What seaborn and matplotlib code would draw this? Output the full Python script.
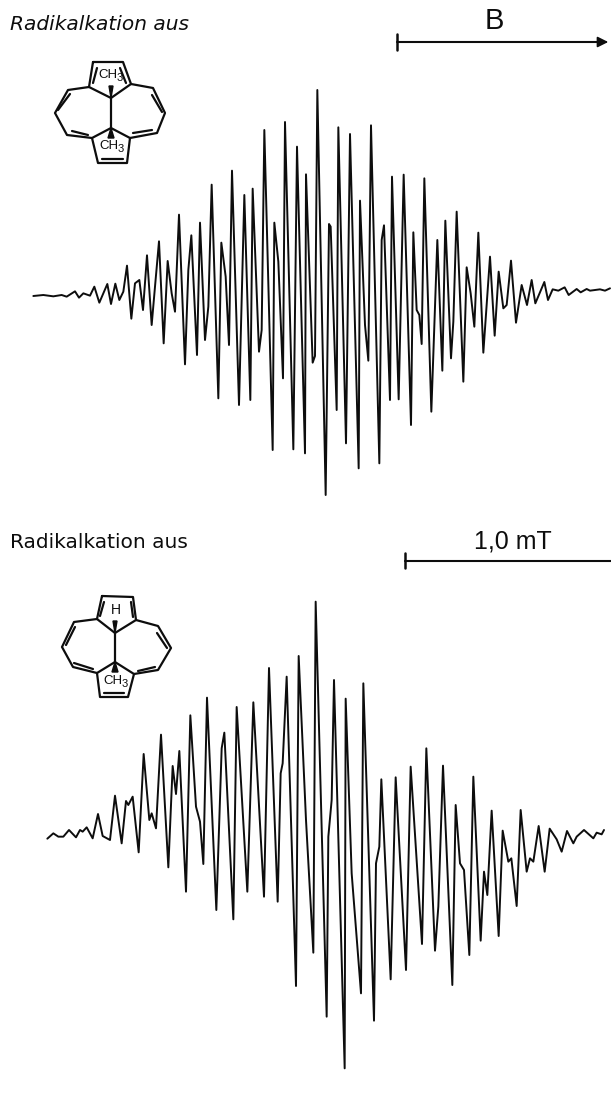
import seaborn as sns
import matplotlib.pyplot as plt
from pandas import DataFrame

# top trace: field position, amplitude (3 units = 1 px)
top_field = [40, 70, 100, 125, 140, 165, 177, 190, 210, 223, 238, 262, 273, 286, 298, 310, 321, 334, 345, 358,
             369, 381, 395, 405, 417, 431, 443, 455, 465, 477, 495, 505, 514, 531, 540, 555, 565, 575, 595, 604,
             617, 627, 636, 657, 673, 691, 698, 717, 725, 733, 758, 763, 775, 789, 795, 820, 831, 855, 858, 878,
             885, 892, 917, 927, 932, 950, 955, 978, 990, 1016, 1020, 1035, 1045, 1053, 1078, 1085, 1092, 1110,
             1116, 1136, 1151, 1173, 1180, 1190, 1198, 1205, 1213, 1234, 1252, 1267, 1276, 1293, 1300, 1310,
             1330, 1340, 1352, 1363, 1375, 1390, 1410, 1424, 1436, 1450, 1460, 1473, 1488, 1505, 1521, 1535,
             1546, 1573, 1584, 1598, 1615, 1634, 1646, 1670, 1682, 1700, 1710, 1740, 1755, 1770]
top_amp = [0, 3, -1, 3, -2, 14, -5, 8, 1, 28, -20, 36, -24, 37, -12, 13, 91, -68, 38, 48,
           -42, 122, -87, 28, 164, -142, 105, 8, -47, 244, -205, 78, 182, -177, 220, -132, -32, 334, -307, 160,
           58, -147, 376, -327, 303, -312, 322, -167, -102, 498, -462, 220, 103, -247, 522, -460, 448, -472, 365, -200,
           -180, 618, -597, 216, 208, -342, 506, -442, 486, -517, 286, -87, -194, 512, -502, 168, 212, -312,
           358, -310, 364, -387, 191, -42, -57, -144, 353, -347, 168, -224, 226, -187, -77, 253,
           -257, 86, 8, -92, 190, -170, 118, -119, 73, -37, -27, 106, -80, 33, -27, 48,
           -22, 42, -12, 20, 16, 26, 3, 21, 11, 21, 16, 20, 16, 23]

# bottom trace
bot_field = [52, 70, 85, 100, 117, 138, 150, 158, 170, 188, 204, 218, 240, 255, 275, 288, 295, 308, 326, 341,
             358, 365, 378, 393, 415, 428, 438, 448, 468, 481, 498, 510, 520, 531, 559, 575, 583, 610, 620, 652,
             670, 702, 717, 743, 752, 758, 770, 798, 806, 828, 850, 857, 890, 895, 905, 912, 944, 947, 965, 993,
             1000, 1032, 1038, 1048, 1054, 1082, 1097, 1128, 1142, 1176, 1189, 1215, 1225, 1239, 1267, 1277, 1290,
             1302, 1318, 1330, 1352, 1362, 1372, 1385, 1406, 1418, 1435, 1444, 1460, 1472, 1490, 1500, 1510, 1526,
             1544, 1559, 1580, 1595, 1611, 1630, 1640, 1662, 1690, 1700, 1715, 1722]
bot_amp = [-6, 10, 0, 0, 20, -2, 20, 15, 28, -5, 68, 2, -10, 123, -20, 107, 95, 120, -47, 248,
           50, 70, 25, 306, -92, 212, 128, 257, -165, 364, 90, 45, -82, 417, -220, 265, 312, -248, 389, -165,
           403, -180, 506, -195, 190, 220, 480, -448, 542, 50, -348, 705, -540, 0, 110, 470, -695, 414, -110, -470,
           460, -552, -80, -30, 172, -428, 178, -400, 210, -322, 265, -342, -210, 213, -445, 95, -80,
           -100, -355, 180, -312, -105, -175, 78, -298, 18, -75, -65, -208, 80, -105, -65, -75, 32,
           -105, 24, -8, -45, 17, -20, 0, 20, -5, 12, 7, 20]

labels = ["Radikalkation aus", "Radikalkation aus"]
field_label = "B"
scale_label = "1,0 mT"

# molecule outlines, figure pixels
mol_top = [
    [(93, 62), (123, 62), (131, 84), (111, 98), (89, 87), (93, 62)],
    [(89, 87), (68, 90), (55, 113), (67, 135), (92, 138), (111, 128)],
    [(111, 98), (111, 128)],
    [(92, 138), (98, 163), (127, 163), (130, 138), (111, 128)],
    [(131, 84), (153, 88), (165, 113), (157, 133), (130, 138)],
    [(97, 68), (93, 83)], [(120, 68), (126, 83)], [(102, 159), (123, 159)],
    [(58, 110), (70, 94)], [(72, 131), (88, 135)], [(152, 95), (162, 112)], [(133, 133), (152, 130)],
]
mol_bot = [
    [(102, 596), (133, 597), (136, 620), (115, 633), (97, 619), (102, 596)],
    [(97, 619), (74, 622), (62, 647), (73, 667), (97, 673), (115, 662)],
    [(115, 633), (115, 662)],
    [(97, 673), (100, 697), (128, 697), (134, 674), (115, 662)],
    [(136, 620), (158, 626), (171, 648), (158, 670), (134, 674)],
    [(104, 602), (100, 616)], [(131, 602), (133, 617)], [(104, 693), (124, 693)],
    [(75, 627), (66, 645)], [(74, 663), (93, 669)], [(157, 633), (167, 648)], [(138, 671), (155, 667)],
]
wedges = [
    [(111, 98), (109, 86), (113, 86)],
    [(111, 128), (108, 138), (114, 138)],
    [(115, 633), (113, 621), (117, 621)],
    [(115, 662), (112, 672), (118, 672)],
]
# where the CH3 groups sit, figure pixels
methyl_pos = [(108, 75), (109, 146), (113, 681)]

W, H = 611, 1097
INK = '#0d0d0d'
sns.set_style("white")
fig = plt.figure(figsize=(W / 100, H / 100), dpi=100)


def trace_axes(left, top, right, bottom):
    return fig.add_axes([left / W, 1 - bottom / H, (right - left) / W, (bottom - top) / H])


# top spectrum
ax = trace_axes(20, 80, 611, 500)
sns.lineplot(data=DataFrame({'field': top_field, 'amp': top_amp}), x='field', y='amp', ax=ax,
             estimator=None, sort=False, color=INK, linewidth=1.4, solid_joinstyle='round')
ax.set_xlim(0, 1773)
ax.set_ylim(-612, 648)
ax.axis('off')

# bottom spectrum
ax = trace_axes(30, 600, 611, 1070)
sns.lineplot(data=DataFrame({'field': bot_field, 'amp': bot_amp}), x='field', y='amp', ax=ax,
             estimator=None, sort=False, color=INK, linewidth=1.4, solid_joinstyle='round')
ax.set_xlim(0, 1743)
ax.set_ylim(-700, 710)
ax.axis('off')

# overlay in pixels for the annotations
over = fig.add_axes([0, 0, 1, 1], facecolor='none')
over.set_xlim(0, W)
over.set_ylim(H, 0)
over.axis('off')

for part in mol_top + mol_bot:
    over.plot([p[0] for p in part], [p[1] for p in part], color=INK, lw=1.6, solid_capstyle='round')
for w in wedges:
    over.fill([p[0] for p in w], [p[1] for p in w], color=INK)

mol_font = 'Liberation Sans'
for x, y in methyl_pos:
    over.text(x, y, 'CH', ha='center', va='center', fontsize=9.5, family=mol_font, color=INK)
    over.text(x + 12, y + 3, '3', ha='center', va='center', fontsize=8, family=mol_font, color=INK)
over.text(116, 610, 'H', ha='center', va='center', fontsize=10, family=mol_font, color=INK)

over.text(10, 25, labels[0], fontsize=14.5, style='italic', va='center', color=INK)
over.text(10, 543, labels[1], fontsize=14.5, va='center', color=INK)

over.text(494, 21, field_label, fontsize=21, family=mol_font, ha='center', va='center', color=INK)
over.text(513, 541, scale_label, fontsize=18, family=mol_font, ha='center', va='center', color=INK)

# field arrow and scale bar
over.plot([397, 600], [42, 42], color=INK, lw=1.5)
over.plot([397, 397], [34, 50], color=INK, lw=1.8)
over.annotate('', xy=(611, 42), xytext=(585, 42),
              arrowprops=dict(arrowstyle='-|>', color=INK, lw=1.2, mutation_scale=16))
over.plot([405, 611], [561, 561], color=INK, lw=1.5)
over.plot([405, 405], [553, 568], color=INK, lw=1.8)

plt.savefig('out.png', dpi=100)
